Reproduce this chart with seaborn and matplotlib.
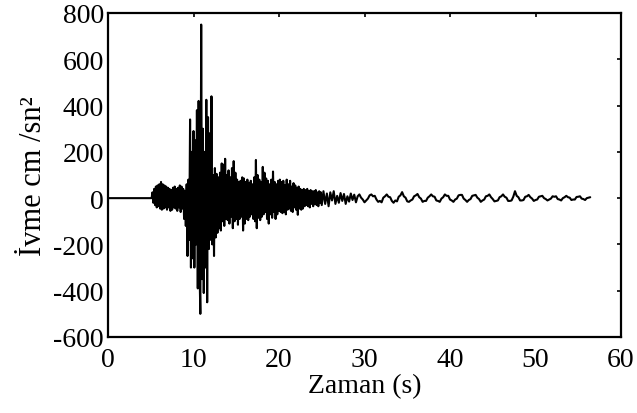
import matplotlib
matplotlib.use('Agg')
import matplotlib.pyplot as plt
import seaborn as sns
import pandas as pd
import numpy as np

# --- DATA (cm/s^2) ---
# quiet part before the first arrival
t_quiet = [0.0, 5.0]
acc_quiet = [0.0, 0.0]

# strong motion, 5.1 s .. 25.0 s, sampled every 0.1 s
strong_start, strong_dt = 5.1, 0.1
acc_strong = [
    0, 25, -20, 40, -30, 50, -40, 55, -35, 60,
    -45, 70, -50, 60, -45, 55, -40, 50, -50, 45,
    -40, 40, -55, 35, -50, 45, -40, 50, -45, 40,
    -55, 45, -40, 55, -60, 50, -45, 40, -90, 30,
    -120, 60, -250, 80, -180, 340, -300, 200, -260, 290,
    -300, 250, -200, 380, -390, 420, -300, -500, 750, -350,
    300, -410, 200, -300, 425, -450, 350, -220, 280, -180,
    440, -200, 100, -250, 130, -170, 105, -150, 90, -130,
    110, -140, 150, -100, 145, -120, 170, -90, 100, -95,
    120, -110, 90, -80, 130, -130, 160, -100, 110, -90,
    80, -115, 70, -90, 75, -80, 90, -140, 85, -110,
    70, -90, 80, -95, 65, -80, 75, -70, 60, -90,
    90, -100, 165, -130, 100, -85, 80, -95, 70, -80,
    135, -70, 110, -60, 85, -90, 75, -110, 60, -70,
    80, -85, 115, -60, 70, -90, 60, -70, 75, -55,
    80, -60, 70, -65, 75, -60, 55, -70, 80, -50,
    60, -45, 75, -55, 50, -60, 65, -40, 55, -50,
    45, -72, 50, -45, 40, -50, 35, -45, 40, -35,
    35, -30, 40, -35, 30, -40, 35, -25, 30, -35,
    30, -25, 35, -30, 25, -35, 30, -20, 25, -30,
]

# coda, 25.2 s .. 56.4 s, sampled every 0.2 s
tail_start, tail_dt = 25.2, 0.2
acc_tail = [
    30, -25, 20, -35, 25, -10, 30, -25, 10, -20,
    22, -12, 18, -25, 8, -15, 20, -8, 15, -18,
    8, 16, 2, -6, -18, -10, -2, 12, 16, 8,
    10, -6, -16, -12, -18, 2, 8, 16, 6, 4,
    -12, -20, -10, -14, 6, 12, 26, 8, 2, -14,
    -16, -10, -6, 8, 12, 18, 4, -2, -16, -12,
    -12, 2, 8, 16, 8, 6, -10, -12, -16, -2,
    4, 16, 10, 10, -6, -10, -16, -6, -2, 12,
    14, 14, -2, -8, -16, -8, -4, 10, 12, 14,
    2, -4, -16, -10, -6, 8, 10, 16, 4, -4,
    -14, -12, -10, 4, 8, 16, 6, 2, -12, -12,
    -10, 6, 30, 10, 4, -10, -10, -8, 6, 8,
    14, 4, -2, -12, -8, -6, 6, 8, 10, 0,
    -4, -10, -6, -2, 8, 6, 8, -4, -6, -10,
    0, 4, 10, 4, 2, -8, -6, -6, 5, 6,
    8, -2, -4, -8, 0, 2, 4,
]

x_ticks = [0, 10, 20, 30, 40, 50, 60]
y_ticks = [-600, -400, -200, 0, 200, 400, 600, 800]

# --- build the series ---
t_strong = strong_start + strong_dt * np.arange(len(acc_strong))
t_tail = tail_start + tail_dt * np.arange(len(acc_tail))
df = pd.DataFrame({
    "t": np.concatenate([t_quiet, t_strong, t_tail]),
    "acc": np.concatenate([acc_quiet, acc_strong, acc_tail]).astype(float),
})

# --- PLOT ---
sns.set_style("white")
plt.rcParams['font.family'] = ['Liberation Serif', 'DejaVu Serif']
plt.rcParams['axes.unicode_minus'] = False
plt.rcParams['text.color'] = 'black'
plt.rcParams['axes.labelcolor'] = 'black'

fig = plt.figure(figsize=(6.37, 4.14), dpi=100)
ax = fig.add_axes([108 / 637, 1 - 338 / 414, 513 / 637, 324 / 414])

sns.lineplot(data=df, x="t", y="acc", color="black", linewidth=1.5,
             estimator=None, sort=False, ax=ax)

ax.set_xlim(0, 60)
ax.set_ylim(-600, 800)
ax.set_xticks(x_ticks)
ax.set_yticks(y_ticks)
ax.tick_params(direction='in', top=True, right=True, length=3, width=1.2,
               labelsize=20, colors='black')
ax.tick_params(axis='x', pad=7)
ax.tick_params(axis='y', pad=3)
for s in ax.spines.values():
    s.set_visible(True)
    s.set_color('black')
    s.set_linewidth(1.6)

ax.set_xlabel("Zaman (s)", fontsize=20, labelpad=1, color='black')
ax.set_ylabel("İvme cm /sn²", fontsize=22, labelpad=4, color='black')

plt.savefig("out.png", dpi=100)
plt.close()
